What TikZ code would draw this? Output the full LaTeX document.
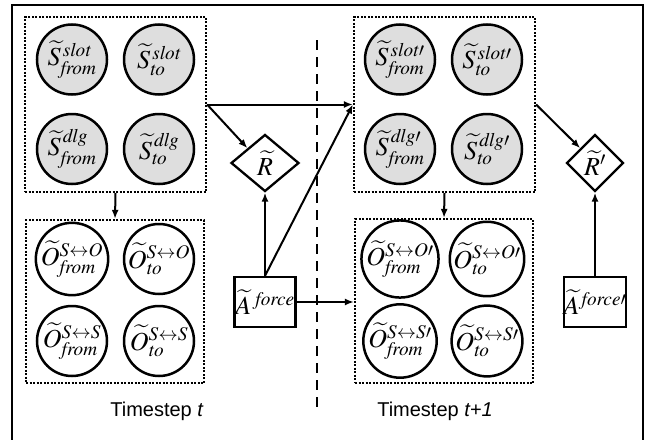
\documentclass[tikz,border=0pt]{standalone}
\usepackage{mathptmx}
\usepackage{fontspec}
\setmainfont{Liberation Serif}
\setsansfont{Liberation Sans}
\usetikzlibrary{arrows.meta,shapes.geometric}

\newcommand\varfont{\fontsize{26}{30}\selectfont}
\newcommand\capfont{\fontsize{20}{24}\selectfont\sffamily}

\tikzset{
  var/.style={circle, draw, line width=2.5pt, minimum size=70pt, inner sep=0pt, font=\varfont},
  obs/.style={var, fill=black!13},
  grp/.style={draw, line width=2.2pt, dash pattern=on 2pt off 1.5pt, inner sep=0pt},
  reward/.style={diamond, draw, line width=2.3pt, inner sep=0pt, font=\varfont},
  action/.style={rectangle, draw, line width=2.3pt, inner sep=0pt,
                 minimum width=61pt, minimum height=50pt, font=\varfont},
  link/.style={line width=2pt, -{Latex[length=9pt,width=7pt]}},
  caption/.style={font=\capfont, inner sep=0pt},
}

\begin{document}
\begin{tikzpicture}[x=1pt,y=-1pt]
\useasboundingbox (0,0) rectangle (650,439);
\clip (0,0) rectangle (650,439);

% outer frame (runs past the lower edge)
\draw[line width=2.6pt] (12,450) -- (12,5) -- (643,5) -- (643,450);

% time slice separator
\coordinate (sepTop) at (317,40);
\coordinate (sepBot) at (317,410);
\draw[line width=2.2pt, dash pattern=on 10pt off 7pt] (sepTop) -- (sepBot);

% ---- timestep t ----
\node[grp, minimum width=181pt, minimum height=175pt] (tl) at (115.5,104.5) {};
\node[grp, minimum width=178pt, minimum height=163pt] (bl) at (115,301.5) {};

\node[obs] (s1) at (72,59.5)  {$\widetilde{S}^{\,\mathit{slot}}_{\mathit{from}}$};
\node[obs] (s2) at (159,59.5) {$\widetilde{S}^{\,\mathit{slot}}_{\mathit{to}}$};
\node[obs] (s3) at (72,149)   {$\widetilde{S}^{\,\mathit{dlg}}_{\mathit{from}}$};
\node[obs] (s4) at (159,149)  {$\widetilde{S}^{\,\mathit{dlg}}_{\mathit{to}}$};

\node[var] (o1) at (72,259)  {$\widetilde{O}^{S\leftrightarrow O}_{\mathit{from}}$};
\node[var] (o2) at (159,259) {$\widetilde{O}^{S\leftrightarrow O}_{\mathit{to}}$};
\node[var] (o3) at (72,341)  {$\widetilde{O}^{S\leftrightarrow S}_{\mathit{from}}$};
\node[var] (o4) at (159,341) {$\widetilde{O}^{S\leftrightarrow S}_{\mathit{to}}$};

\node[reward, minimum width=68pt, minimum height=57pt] (R) at (265,163) {$\widetilde{R}$};
\node[action] (A) at (265,302) {$\widetilde{A}^{\;\mathit{force}}$};

\node[caption] (capt) at (157,411) {Timestep \textit{t}};

% ---- timestep t+1 ----
\node[grp, minimum width=181pt, minimum height=175pt] (tr) at (444.5,104.5) {};
\node[grp, minimum width=178pt, minimum height=164pt] (br) at (444,301) {};

\node[obs] (p1) at (400,59.5)  {$\widetilde{S}^{\,\mathit{slot}\prime}_{\mathit{from}}$};
\node[obs] (p2) at (487,59.5)  {$\widetilde{S}^{\,\mathit{slot}\prime}_{\mathit{to}}$};
\node[obs] (p3) at (400,149)   {$\widetilde{S}^{\,\mathit{dlg}\prime}_{\mathit{from}}$};
\node[obs] (p4) at (487,149)   {$\widetilde{S}^{\,\mathit{dlg}\prime}_{\mathit{to}}$};

\node[var] (q1) at (400,259) {$\widetilde{O}^{S\leftrightarrow O\prime}_{\mathit{from}}$};
\node[var] (q2) at (487,259) {$\widetilde{O}^{S\leftrightarrow O\prime}_{\mathit{to}}$};
\node[var] (q3) at (400,341) {$\widetilde{O}^{S\leftrightarrow S\prime}_{\mathit{from}}$};
\node[var] (q4) at (487,341) {$\widetilde{O}^{S\leftrightarrow S\prime}_{\mathit{to}}$};

\node[reward, minimum width=57pt, minimum height=57pt] (R2) at (595,163) {$\widetilde{R}'$};
\node[action, minimum width=62pt] (A2) at (595,302) {$\widetilde{A}^{\,\mathit{force}\prime}$};

\node[caption] (capt2) at (435,411) {Timestep \textit{t+1}};

% ---- dependencies ----
\draw[link] (tl.south) -- (bl.north);
\draw[link] (tr.south) -- (br.north);
\draw[link] (tl.east) -- (tr.west);
\draw[link] (tl.east) -- (R.north west);
\draw[link] (A.north) -- (R.south);
\draw[link] (A.north) -- (tr.west);
\draw[link] (A.east) -- (A.east -| br.west);
\draw[link] (tr.east) -- (R2.north west);
\draw[link] (A2.north) -- (R2.south);
\end{tikzpicture}
\end{document}
